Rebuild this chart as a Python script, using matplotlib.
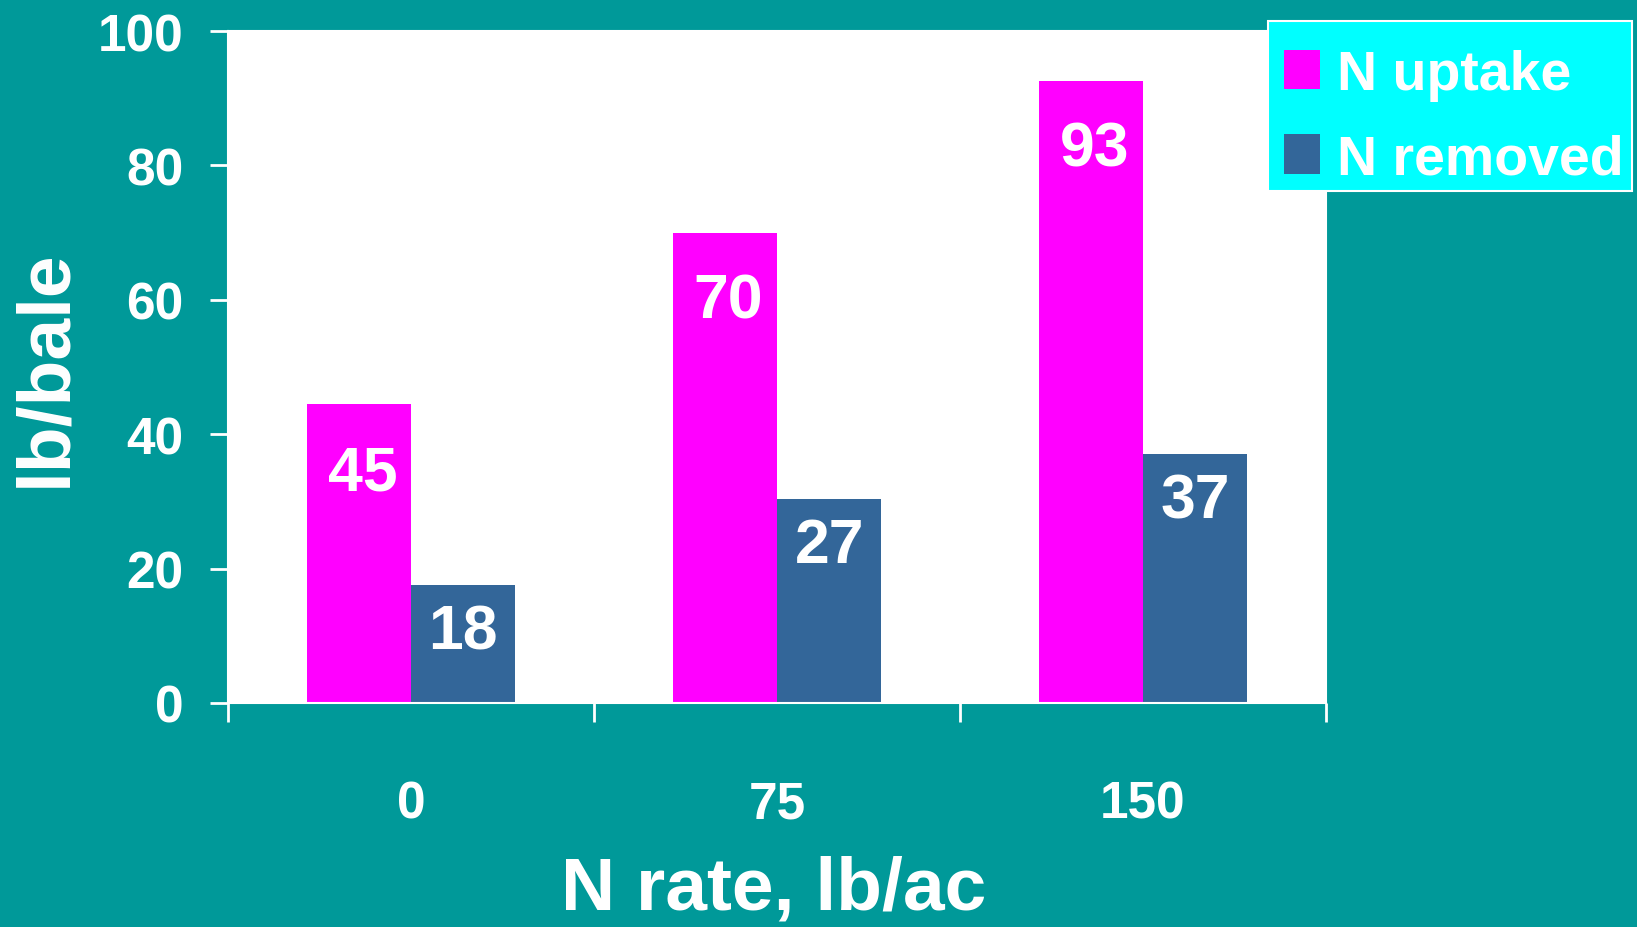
import matplotlib
matplotlib.use("Agg")
import matplotlib.pyplot as plt
from matplotlib.patches import Rectangle
import numpy as np

plt.rcParams["font.family"] = ["Liberation Sans", "DejaVu Sans"]
plt.rcParams["font.weight"] = "bold"

# ── data ──────────────────────────────────────────────────────────────────────
rates = ["0", "75", "150"]
uptake = [44.5, 70, 92.6]          # drawn bar heights
removed = [17.5, 30.4, 37]
uptake_labels = ["45", "70", "93"]  # printed values
removed_labels = ["18", "27", "37"]

BG = "#009999"
MAGENTA = "#FF00FF"
BLUE = "#336699"
CYAN = "#00FFFF"
W, H = 1637, 928

fig = plt.figure(figsize=(W / 100, H / 100), dpi=100, facecolor=BG)
ax = fig.add_axes([228 / W, 1 - 704 / H, 1098 / W, 672 / H])
ax.set_facecolor("white")

x = np.arange(len(rates)) + 0.5
w = 0.285
b1 = ax.bar(x - w / 2, uptake, w, color=MAGENTA, label="N uptake", zorder=2)
b2 = ax.bar(x + w / 2, removed, w, color=BLUE, label="N removed", zorder=2)

for rect, lab in zip(b1, uptake_labels):
    ax.text(rect.get_x() + rect.get_width() / 2 + 0.01, rect.get_height() - 10.2, lab,
            ha="center", va="center", color="white", fontsize=45, fontweight="bold", zorder=3)
for rect, lab in zip(b2, removed_labels):
    ax.text(rect.get_x() + rect.get_width() / 2, rect.get_height() - 7.0, lab,
            ha="center", va="center", color="white", fontsize=45, fontweight="bold", zorder=3)

ax.set_xlim(0, 3)
ax.set_ylim(0, 100)
ax.set_yticks(np.arange(0, 101, 20))
ax.set_xticks([0, 1, 2, 3])
ax.set_xticklabels([])
ax.set_xticks(x, minor=True)
ax.set_xticklabels(rates, minor=True)

for s in ax.spines.values():
    s.set_color("white")
    s.set_linewidth(1.5)

ax.tick_params(axis="y", direction="out", length=13, width=2, color="white",
               labelcolor="white", labelsize=37, pad=19)
ax.tick_params(axis="x", which="major", direction="out", length=14, width=2,
               color="white")
ax.tick_params(axis="x", which="minor", length=0, labelcolor="white",
               labelsize=37, pad=55)

ax.set_ylabel("lb/bale", color="white", fontsize=54, fontweight="bold", va="center")
ax.yaxis.set_label_coords(-0.166, 0.5)
ax.set_xlabel("N rate, lb/ac", color="white", fontsize=54, fontweight="bold", va="baseline")
ax.xaxis.set_label_coords(0.497, -0.3065)

# legend box drawn separately so its size matches the slide
box = Rectangle((1268 / W, 1 - 192 / H), 364 / W, 170 / H, transform=fig.transFigure,
                facecolor=CYAN, edgecolor="white", linewidth=1.5, clip_on=False, zorder=4)
ax.add_artist(box)

leg = ax.legend(loc="upper left", bbox_to_anchor=(1284 / W, 1 - 50 / H),
                bbox_transform=fig.transFigure, borderaxespad=0, borderpad=0,
                fontsize=40, frameon=False, handlelength=0.65,
                handleheight=0.72, handletextpad=0.3, labelspacing=0.58)
leg.set_zorder(5)
for t in leg.get_texts():
    t.set_color("white")
    t.set_fontweight("bold")

fig.savefig("out.png", dpi=100, facecolor=BG)
